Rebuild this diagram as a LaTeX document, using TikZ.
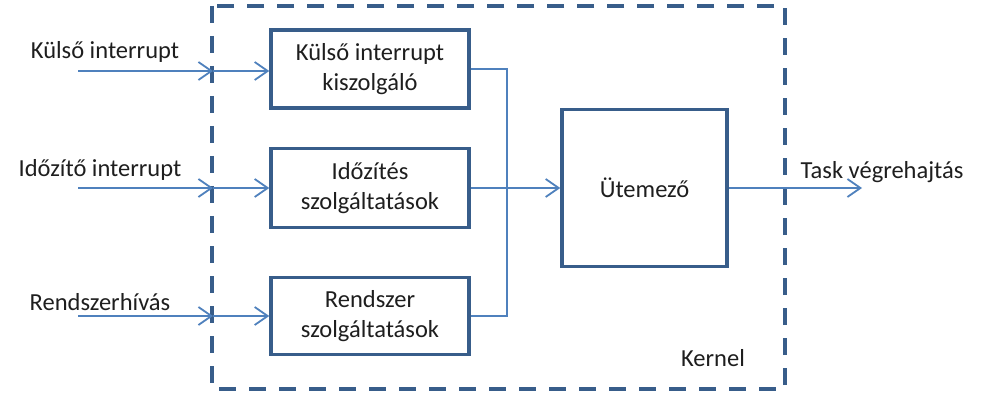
\documentclass[tikz,border=0pt]{standalone}
\usepackage{fontspec}
\setmainfont{Carlito}
\usetikzlibrary{arrows.meta}
\definecolor{boxblue}{RGB}{56,93,138}
\definecolor{lineblue}{RGB}{79,129,189}
\definecolor{txt}{RGB}{30,30,30}
\tikzset{
  blk/.style={draw=boxblue, line width=3.5pt, minimum width=198pt, align=center, inner sep=0pt, text=txt, font=\fontsize{24.5}{30}\selectfont},
  lbl/.style={font=\fontsize{24.5}{30}\selectfont, inner sep=0pt, text=txt},
  conn/.style={draw=lineblue, line width=1.8pt},
  arr/.style={conn, -{Straight Barb[length=13pt,width=18pt,line width=1.8pt]}},
  kern/.style={draw=boxblue, line width=4pt, dash pattern=on 17pt off 13pt}
}
\begin{document}
\begin{tikzpicture}[x=1pt,y=-1pt]
\useasboundingbox (0,0) rectangle (981,395);
\fill[white] (0,0) rectangle (981,395);
% kernel dashed border
\draw[kern] (212,6) rectangle (785,389);
\node[lbl] (kl) at (713,358) {Kernel};
% blocks
\node[blk, minimum height=78pt] (b1) at (370,69) {Külső interrupt\\kiszolgáló};
\node[blk, minimum height=79pt] (b2) at (370,188) {Időzítés\\szolgáltatások};
\node[blk, minimum height=77pt] (b3) at (370,316) {Rendszer\\szolgáltatások};
\node[blk, minimum width=165pt, minimum height=157pt] (ut) at (644.5,188) {Ütemező};
% input labels
\node[lbl] (l1) at (105,52) {Külső interrupt};
\node[lbl] (l2) at (100,170) {Időzítő interrupt};
\node[lbl] (l3) at (100,302) {Rendszerhívás};
\node[lbl] (l4) at (882,172) {Task végrehajtás};
% coordinates
\coordinate (s1) at (78,71);
\coordinate (k1) at (213,71);
\coordinate (s2) at (78,188);
\coordinate (k2) at (213,188);
\coordinate (s3) at (78,316);
\coordinate (k3) at (213,316);
\coordinate (j) at (507,188);
\coordinate (o) at (862,188);
% input arrows
\draw[arr] (s1) -- (k1);
\draw[arr] (k1) -- (b1.west |- k1);
\draw[arr] (s2) -- (k2);
\draw[arr] (k2) -- (b2.west);
\draw[arr] (s3) -- (k3);
\draw[arr] (k3) -- (b3.west);
% merging lines
\draw[conn] (b1.east) -| (j) |- (b3.east);
\draw[arr] (b2.east) -- (ut.west);
\draw[arr] (ut.east) -- (o);
\end{tikzpicture}
\end{document}
